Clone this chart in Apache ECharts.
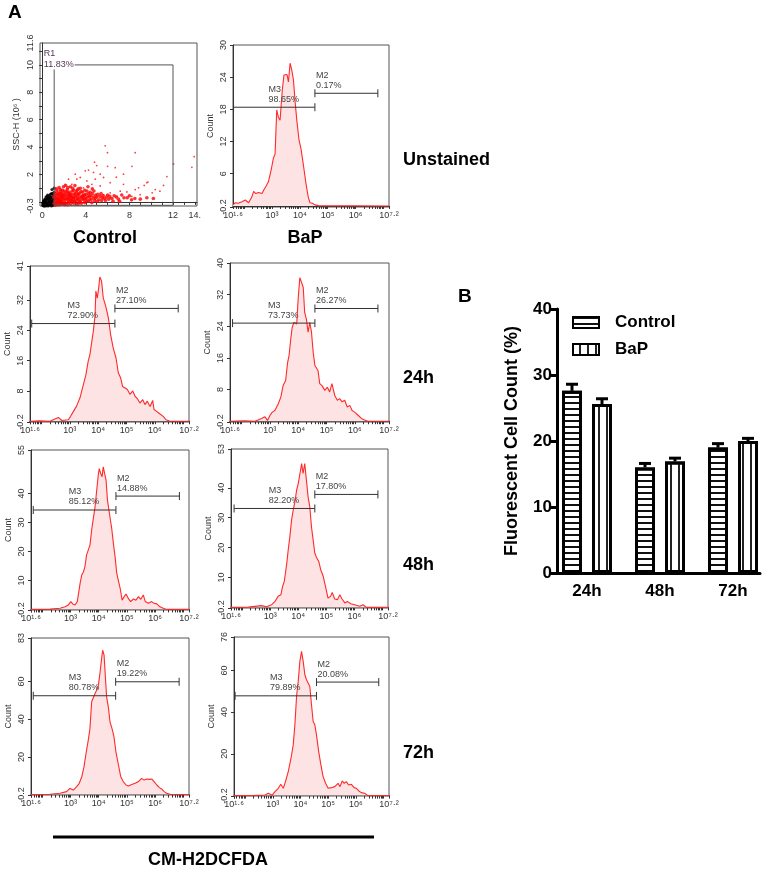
<!DOCTYPE html>
<html><head><meta charset="utf-8">
<script src="https://cdn.jsdelivr.net/npm/echarts@6/dist/echarts.min.js"></script>
<style>html,body{margin:0;padding:0;background:#fff}#c{width:764px;height:870px}</style>
</head><body><div id="c"></div>
<script>
// ---------------- DATA ----------------
// Scatter (FSC vs SSC-H) - Unstained control
const scatterBlack = [[0.1,-0.2],[0.2,-0.1],[0.3,-0.25],[0.3,0.0],[0.4,-0.15],[0.5,0.1],[0.5,-0.2],[0.6,-0.05],[0.7,0.2],[0.7,-0.2],[0.8,0.0],[0.8,0.35],[0.9,-0.15],[0.9,0.15],[1.0,0.05],[1.0,0.45],[0.6,0.3],[0.4,0.2],[0.2,0.1],[1.05,-0.2],[0.95,0.6],[0.75,0.55],[0.15,-0.3],[0.35,-0.3],[0.55,-0.3],[0.85,-0.3],[1.1,0.2],[1.1,0.7],[0.65,0.45],[0.45,0.4],[1.1,1.0],[0.9,0.9],[0.25,-0.05],[0.65,0.1],[0.85,0.6],[0.05,-0.1],[0.1,0.0],[0.2,-0.3],[0.3,0.15],[0.45,-0.05],[0.55,0.25],[0.7,0.0],[0.75,0.3],[0.8,-0.2],[0.95,0.3],[1.0,-0.25],[0.6,-0.25],[0.4,-0.25],[0.25,0.2],[0.9,0.0],[0.5,0.5],[0.35,0.35],[0.05,-0.25],[0.15,0.05]];
const scatterRedDense = [[1.1,-0.1],[1.2,0.1],[1.3,0.3],[1.4,-0.05],[1.5,0.2],[1.5,0.5],[1.6,0.0],[1.7,0.35],[1.8,0.15],[1.8,0.6],[1.9,-0.1],[2.0,0.3],[2.0,0.8],[2.1,0.1],[2.2,0.5],[2.3,0.2],[2.3,0.9],[2.4,-0.05],[2.5,0.4],[2.5,0.7],[2.6,0.15],[2.7,0.55],[2.8,0.0],[2.8,1.0],[2.9,0.3],[3.0,0.6],[3.1,0.1],[3.2,0.45],[3.2,0.85],[3.3,0.2],[3.4,0.6],[3.5,0.0],[3.6,0.35],[3.7,0.7],[3.8,0.15],[3.9,0.5],[4.0,0.25],[4.1,0.8],[4.2,0.05],[4.3,0.4],[4.5,0.2],[4.6,0.6],[4.8,0.1],[5.0,0.35],[5.2,0.15],[5.5,0.3],[5.8,0.1],[6.1,0.2],[6.5,0.05],[7.0,0.2],[1.2,0.6],[1.35,0.8],[1.65,0.9],[1.95,1.1],[2.15,1.2],[2.6,1.1],[3.0,1.2],[3.5,1.0],[1.05,0.35],[1.25,-0.2],[1.45,0.65],[1.75,-0.15],[2.05,-0.2],[2.45,0.25],[2.75,0.35],[3.35,-0.1],[3.75,0.45],[4.4,0.7],[4.9,0.5],[5.4,0.6],[6.0,0.5],[6.6,0.45],[7.3,0.5],[7.8,0.3],[8.2,0.15],[9.0,0.2],[9.6,0.3],[10.2,0.25],
  [1.15,0.45],[1.2,-0.25],[1.25,0.25],[1.3,0.0],[1.35,0.5],[1.4,0.2],[1.45,-0.2],[1.5,0.05],[1.55,0.35],[1.6,0.6],[1.6,-0.2],[1.65,0.15],[1.7,0.05],[1.7,0.75],[1.75,0.45],[1.85,-0.05],[1.85,0.35],[1.9,0.55],[1.95,0.2],[2.0,-0.1],[2.05,0.45],[2.1,0.65],[2.15,-0.1],[2.2,0.25],[2.25,0.75],[2.3,-0.2],[2.35,0.4],[2.4,0.6],[2.45,0.05],[2.55,0.55],[2.6,-0.15],[2.65,0.35],[2.7,0.1],[2.75,0.8],[2.85,0.2],[2.9,-0.1],[2.95,0.5],[3.0,0.05],[3.05,0.35],[3.15,0.7],[3.2,-0.15],[3.25,0.25],[3.3,0.55],[3.4,0.05],[3.45,0.35],[3.55,0.75],[3.6,-0.1],[3.65,0.2],[3.7,0.45],[3.85,0.3],[3.9,-0.05],[4.0,0.55],[4.05,0.1],[4.15,0.35],[4.25,0.6],[4.35,0.15],[4.45,0.45],[4.55,-0.05],[4.7,0.35],[4.75,0.8],[4.85,0.25],[5.05,0.05],[5.1,0.55],[5.3,0.4],[5.45,0.1],[5.6,0.45],[5.7,0.25],[5.9,0.35],[6.2,0.4],[6.4,0.25],[6.8,0.35],[7.1,0.05],[7.5,0.3],[8.0,0.45],[8.5,0.25],[1.3,0.95],[1.55,1.05],[1.85,0.85],[2.35,1.05],[2.9,0.85],[3.3,0.95],[3.9,0.85],[4.2,1.1],[4.6,0.95]];
const scatterRedSparse = [[5.78,4.09],[5.99,3.59],[8.53,3.59],[4.8,2.9],[5.0,2.65],[6.0,2.6],[4.25,2.32],[3.03,2.02],[8.23,2.6],[11.44,1.85],[11.13,1.2],[12.05,2.77],[13.73,2.52],[13.94,3.3],[6.7,2.5],[6.8,1.8],[7.46,1.28],[9.6,1.4],[9.7,1.45],[9.36,1.2],[8.84,1.03],[8.53,0.9],[7.77,0.73],[7.16,0.78],[6.24,0.66],[5.63,0.53],[5.32,1.16],[4.1,1.53],[3.49,1.78],[2.72,1.28],[4.56,1.28],[3.79,1.03],[3.18,0.9],[2.26,0.78],[1.96,0.53],[1.65,0.28],[1.35,0.4],[10.37,0.9],[10.8,0.78],[10.09,0.66],[8.99,0.53],[8.23,0.4],[6.86,0.4],[6.24,0.28],[5.03,0.33],[4.41,0.4],[3.95,0.28],[3.49,0.16],[7.46,2.02],[5.32,2.02],[4.71,2.15],[3.95,2.27],[5.63,1.78],[3.18,1.66],[2.42,1.66],[2.11,1.28],[6.24,1.4],[4.87,1.66]];
const gateR1 = [[1.1, 12.0, -0.25, 10.0]];
const gateR1Label = ['R1', '11.83%'];
const scatterXLabels = [0, 4, 8, 12, 14];
const scatterYLabels = [-0.3, 2, 4, 6, 8, 10, 11.6];

// Histograms: [log10(fluorescence), count]
const histUnstainedBaP = [[1.60,0.2],[1.68,0.6],[1.78,0.5],[1.92,0.8],[2.04,1.1],[2.16,0.6],[2.28,1.7],[2.34,2.7],[2.42,2.3],[2.52,2.5],[2.64,2.3],[2.72,3.1],[2.79,3.7],[2.87,4.5],[2.97,6.7],[3.05,8.9],[3.11,9.7],[3.17,17.9],[3.23,16.5],[3.29,16.0],[3.33,18.8],[3.37,21.6],[3.43,24.4],[3.49,24.1],[3.54,24.5],[3.59,23.1],[3.65,26.6],[3.71,25.3],[3.77,23.5],[3.83,19.4],[3.89,16.0],[3.97,12.3],[4.04,10.7],[4.12,7.9],[4.21,4.5],[4.30,1.7],[4.36,0.6],[4.45,0.5],[4.54,0.2],[4.66,0.05],[7.2,0.0]];
const histControl24h = [[1.60,0],[1.95,0.1],[2.30,0],[2.60,1.0],[2.72,0.2],[2.95,0.4],[3.03,1.3],[3.13,2.6],[3.24,4.0],[3.36,6.2],[3.48,9.7],[3.57,12.3],[3.65,15.9],[3.71,17.6],[3.77,20.7],[3.83,23.8],[3.89,27.8],[3.92,34.4],[3.97,32.5],[4.02,35.3],[4.06,38.1],[4.12,37.0],[4.18,32.6],[4.28,30.0],[4.36,27.3],[4.44,22.9],[4.53,19.4],[4.63,16.7],[4.71,12.8],[4.79,11.5],[4.86,9.2],[4.95,8.8],[5.03,8.4],[5.12,7.1],[5.22,8.0],[5.30,6.6],[5.38,6.0],[5.47,4.8],[5.57,5.7],[5.65,4.4],[5.73,5.3],[5.83,3.9],[5.92,5.5],[5.97,3.1],[6.06,2.6],[6.18,1.9],[6.29,1.3],[6.39,0.4],[6.53,0],[7.2,0]];
const histBaP24h = [[1.60,0],[2.13,0.1],[2.48,0],[2.71,0.7],[2.83,1.1],[2.92,0.2],[3.01,1.5],[3.09,2.3],[3.18,2.7],[3.30,4.4],[3.39,6.1],[3.47,9.0],[3.56,10.3],[3.63,14.9],[3.68,16.6],[3.74,20.8],[3.79,23.7],[3.85,25.0],[3.91,25.4],[3.95,24.6],[4.00,30.9],[4.06,36.3],[4.12,35.1],[4.18,33.8],[4.23,27.5],[4.29,25.8],[4.35,22.5],[4.41,25.0],[4.47,22.5],[4.53,17.4],[4.59,14.1],[4.64,14.5],[4.70,12.8],[4.76,9.5],[4.84,9.0],[4.94,7.8],[5.03,8.6],[5.11,7.4],[5.19,9.5],[5.29,6.5],[5.38,5.3],[5.46,5.7],[5.55,4.9],[5.64,5.3],[5.73,3.6],[5.82,4.0],[5.90,2.7],[5.99,2.3],[6.11,1.5],[6.23,0.7],[6.34,0.3],[6.46,0],[7.2,0]];
const histControl48h = [[1.60,0],[2.27,0.1],[2.63,0.4],[2.81,0.9],[2.92,1.5],[3.01,2.7],[3.08,1.9],[3.16,1.5],[3.24,2.7],[3.34,9.0],[3.40,11.9],[3.46,13.0],[3.51,14.7],[3.57,18.8],[3.63,19.1],[3.69,22.2],[3.75,27.4],[3.81,31.4],[3.87,35.4],[3.93,41.2],[3.99,46.9],[4.02,48.6],[4.07,46.9],[4.12,45.8],[4.16,49.2],[4.21,49.8],[4.26,44.6],[4.31,37.7],[4.38,33.1],[4.46,28.0],[4.52,22.8],[4.58,18.2],[4.64,12.4],[4.70,11.9],[4.76,7.3],[4.83,3.2],[4.90,4.4],[4.97,5.3],[5.05,3.8],[5.13,2.7],[5.23,3.6],[5.32,3.2],[5.41,4.4],[5.49,3.5],[5.58,5.0],[5.65,2.7],[5.76,2.1],[5.88,2.7],[5.96,2.1],[6.06,1.9],[6.17,0.9],[6.29,0.4],[6.41,0],[7.2,0]];
const histBaP48h = [[1.60,0],[2.22,0.1],[2.69,0.6],[2.87,0.2],[3.05,0.9],[3.17,2.0],[3.28,3.7],[3.38,4.2],[3.44,7.0],[3.50,8.7],[3.55,12.0],[3.59,14.8],[3.64,19.2],[3.70,23.7],[3.76,29.2],[3.82,32.6],[3.88,35.4],[3.94,39.2],[4.00,41.5],[4.06,44.8],[4.12,48.1],[4.17,44.8],[4.23,48.1],[4.29,42.6],[4.35,37.0],[4.41,33.7],[4.47,27.0],[4.53,22.6],[4.59,18.1],[4.66,16.5],[4.73,15.4],[4.80,12.6],[4.89,10.4],[4.97,7.0],[5.06,3.1],[5.15,3.7],[5.21,5.0],[5.30,2.8],[5.40,2.6],[5.48,4.2],[5.56,2.8],[5.66,1.5],[5.75,2.0],[5.87,1.2],[6.01,0.9],[6.19,0.4],[6.31,0.9],[6.43,0],[6.61,0],[7.2,0]];
const histControl72h = [[1.60,0],[2.27,0.2],[2.63,0.7],[2.86,1.6],[2.98,3.3],[3.10,2.4],[3.22,4.2],[3.31,6.0],[3.40,9.5],[3.48,14.8],[3.55,21.8],[3.63,28.9],[3.69,35.1],[3.75,49.2],[3.81,50.1],[3.87,53.6],[3.93,55.4],[3.99,58.0],[4.05,65.1],[4.11,73.0],[4.14,76.5],[4.19,73.9],[4.24,61.5],[4.28,51.8],[4.34,46.5],[4.40,38.6],[4.47,35.1],[4.54,30.7],[4.61,22.7],[4.70,15.7],[4.78,9.5],[4.87,6.9],[4.97,5.1],[5.05,4.6],[5.17,5.4],[5.29,6.0],[5.41,6.9],[5.52,8.6],[5.61,7.7],[5.70,8.3],[5.80,8.1],[5.88,8.3],[5.96,6.9],[6.06,5.1],[6.15,3.7],[6.23,3.0],[6.32,1.6],[6.41,0.7],[6.53,0.2],[7.2,0]];
const histBaP72h = [[1.60,0],[2.24,0],[2.72,0.3],[2.84,1.1],[2.98,0.2],[3.08,1.9],[3.20,3.5],[3.29,5.4],[3.38,3.5],[3.46,6.7],[3.56,11.5],[3.66,17.9],[3.74,24.3],[3.80,33.9],[3.86,47.5],[3.92,54.7],[3.98,64.3],[4.04,69.1],[4.10,64.3],[4.16,57.9],[4.22,55.5],[4.28,56.3],[4.34,52.3],[4.40,43.5],[4.46,35.5],[4.52,33.9],[4.58,29.1],[4.66,21.1],[4.74,14.7],[4.82,9.1],[4.91,5.9],[5.00,3.5],[5.12,3.8],[5.24,4.3],[5.36,5.9],[5.43,4.3],[5.51,7.0],[5.58,5.9],[5.66,6.7],[5.74,5.1],[5.84,5.4],[5.94,3.8],[6.02,3.5],[6.11,2.2],[6.20,1.4],[6.32,1.1],[6.44,0],[7.2,0]];

const countAxisMax = [30, 41, 40, 55, 53, 83, 76];
const countAxisLabels = [[-0.2,6,12,18,24,30],[-0.2,8,16,24,32,41],[-0.2,8,16,24,32,40],[-0.2,10,20,30,40,55],[-0.2,10,20,30,40,53],[-0.2,20,40,60,83],[-0.2,20,40,60,76]];
const logAxisLabels = [1.6, 3, 4, 5, 6, 7.2];
const logAxisText = ['10¹·⁶', '10³', '10⁴', '10⁵', '10⁶', '10⁷·²'];
// gates [start, end, level]
const gateM3 = [[1.62,4.54,18.4],[1.66,4.59,25.8],[1.69,4.59,24.8],[1.68,4.61,34.3],[1.71,4.59,33.1],[1.68,4.60,52.4],[1.64,4.58,47.8]];
const gateM2 = [[4.54,6.80,21.0],[4.59,6.82,29.8],[4.59,6.81,28.5],[4.61,6.86,39.1],[4.59,6.84,37.8],[4.60,6.85,59.8],[4.58,6.83,54.4]];
const pctM3 = ['98.65%','72.90%','73.73%','85.12%','82.20%','80.78%','79.89%'];
const pctM2 = ['0.17%','27.10%','26.27%','14.88%','17.80%','19.22%','20.08%'];

// Panel B
const barCategories = ['24h', '48h', '72h'];
const controlMean = [27.6, 16.0, 19.0];
const controlSEM  = [1.0, 0.6, 0.6];
const bapMean     = [25.6, 16.9, 20.0];
const bapSEM      = [0.8, 0.5, 0.4];

// ---------------- LAYOUT ----------------
const FONT = 'Liberation Sans, Arial, sans-serif';
const histData = [histUnstainedBaP, histControl24h, histBaP24h, histControl48h, histBaP48h, histControl72h, histBaP72h];
const histBoxes = [
  {left:233, top:45,  width:156, height:162},
  {left:30,  top:266, width:159, height:156},
  {left:230, top:263, width:159, height:159},
  {left:31,  top:450, width:158, height:160},
  {left:231, top:449, width:157, height:159},
  {left:31,  top:638, width:158, height:157},
  {left:234, top:637, width:155, height:159}
];
const logTicks = [];
for (let n = 1; n <= 7; n++) for (let k = 1; k <= 9; k++) {
  const v = Math.log10(k * Math.pow(10, n));
  if (v >= 1.6 - 1e-9 && v <= 7.2 + 1e-9) logTicks.push(v);
}
logTicks.push(1.6, 7.2);

const grids = [], xAxes = [], yAxes = [], series = [];
const axisGray = '#333';

// Scatter panel (index 0)
grids.push({left:40, top:43, width:157, height:163, show:true, borderColor:'#555', borderWidth:1, backgroundColor:'transparent', outerBoundsMode:'none'});
xAxes.push({gridIndex:0, type:'value', min:-0.2, max:14.2, splitLine:{show:false},
  axisLine:{lineStyle:{color:axisGray, width:1}},
  axisTick:{customValues:[0,1,2,3,4,5,6,7,8,9,10,11,12,13,14], length:3, lineStyle:{color:axisGray}},
  axisLabel:{customValues:scatterXLabels, formatter:v => v === 14 ? '14.' : String(v), fontSize:9, color:'#333', margin:5, fontFamily:FONT}});
yAxes.push({gridIndex:0, type:'value', min:-0.3, max:11.6, splitLine:{show:false},
  axisLine:{lineStyle:{color:axisGray, width:1}},
  axisTick:{customValues:[0,1,2,3,4,5,6,7,8,9,10,11], length:3, lineStyle:{color:axisGray}},
  axisLabel:{customValues:scatterYLabels, rotate:90, fontSize:9, color:'#333', margin:5, fontFamily:FONT},
  name:'SSC-H (10⁶ )', nameLocation:'middle', nameGap:19, nameTextStyle:{fontSize:9, color:'#333', fontFamily:FONT}});
series.push({type:'scatter', xAxisIndex:0, yAxisIndex:0, data:scatterBlack, symbolSize:3.2, itemStyle:{color:'#000'}, silent:true});
series.push({type:'scatter', xAxisIndex:0, yAxisIndex:0, data:scatterRedDense, symbolSize:3.6, itemStyle:{color:'#ff0000'}, silent:true});
series.push({type:'scatter', xAxisIndex:0, yAxisIndex:0, data:scatterRedSparse, symbolSize:1.8, itemStyle:{color:'#ff1010'}, silent:true});
series.push({type:'custom', xAxisIndex:0, yAxisIndex:0, data:gateR1, silent:true, z:5,
  renderItem:function(params, api){
    const a = api.coord([api.value(0), api.value(3)]);
    const b = api.coord([api.value(1), api.value(2)]);
    const labX = api.coord([0.15, 0])[0];
    return {type:'group', children:[
      {type:'rect', shape:{x:a[0], y:a[1], width:b[0]-a[0], height:b[1]-a[1]}, style:{stroke:'#555', fill:null, lineWidth:1}},
      {type:'text', style:{text:gateR1Label[0], x:labX, y:a[1]-7, fontSize:9, fill:'#553355', fontFamily:FONT, align:'left', verticalAlign:'bottom'}},
      {type:'text', style:{text:gateR1Label[1], x:labX, y:a[1], fontSize:9, fill:'#553355', fontFamily:FONT, align:'left', verticalAlign:'middle', backgroundColor:'#fff', padding:[0,1,0,0]}}
    ]};
  }});

function gateRenderer(pctArr, name, isM3){
  return function(params, api){
    const x1 = api.value(0), x2 = api.value(1), y = api.value(2);
    const a = api.coord([x1, y]), b = api.coord([x2, y]);
    const c = '#333';
    const tx = isM3 ? a[0] + 0.43 * (b[0] - a[0]) : a[0] + 1;
    return {type:'group', children:[
      {type:'line', shape:{x1:a[0], y1:a[1], x2:b[0], y2:b[1]}, style:{stroke:c, lineWidth:1}},
      {type:'line', shape:{x1:a[0], y1:a[1]-4, x2:a[0], y2:a[1]+4}, style:{stroke:c, lineWidth:1}},
      {type:'line', shape:{x1:b[0], y1:b[1]-4, x2:b[0], y2:b[1]+4}, style:{stroke:c, lineWidth:1}},
      {type:'text', style:{text:name + '\n' + pctArr, x:tx, y:a[1]-3, align:'left', verticalAlign:'bottom', fontSize:9, lineHeight:10, fill:'#444', fontFamily:FONT}}
    ]};
  };
}

histData.forEach((d, p) => {
  const gi = p + 1;
  const box = histBoxes[p];
  grids.push(Object.assign({show:true, borderColor:'#555', borderWidth:1, backgroundColor:'transparent', outerBoundsMode:'none'}, box));
  xAxes.push({gridIndex:gi, type:'value', min:1.6, max:7.2, splitLine:{show:false},
    axisLine:{lineStyle:{color:axisGray, width:1}},
    axisTick:{customValues:logTicks, length:3, lineStyle:{color:axisGray}},
    axisLabel:{customValues:logAxisLabels, margin:4, color:'#333', fontFamily:FONT, fontSize:9,
      formatter:v => logAxisText[logAxisLabels.indexOf(v)]}});
  yAxes.push({gridIndex:gi, type:'value', min:-0.2, max:countAxisMax[p], splitLine:{show:false},
    axisLine:{lineStyle:{color:axisGray, width:1}},
    axisTick:{customValues:countAxisLabels[p], length:3, lineStyle:{color:axisGray}},
    axisLabel:{customValues:countAxisLabels[p], rotate:90, fontSize:9, color:'#333', margin:5, fontFamily:FONT},
    name:'Count', nameLocation:'middle', nameGap:18, nameTextStyle:{fontSize:9, color:'#333', fontFamily:FONT}});
  series.push({type:'line', xAxisIndex:gi, yAxisIndex:gi, data:d, showSymbol:false, symbol:'none', silent:true,
    lineStyle:{color:'#ff2a2a', width:1.1}, areaStyle:{color:'#fde3e3', opacity:1}, z:2});
  series.push({type:'custom', xAxisIndex:gi, yAxisIndex:gi, data:[gateM3[p]], silent:true, z:5, renderItem:gateRenderer(pctM3[p], 'M3', true)});
  series.push({type:'custom', xAxisIndex:gi, yAxisIndex:gi, data:[gateM2[p]], silent:true, z:5, renderItem:gateRenderer(pctM2[p], 'M2', false)});
});

// Panel B: bars grid (index 8) and axis grid (index 9)
grids.push({left:550.5, top:309, width:219, height:264, outerBoundsMode:'none'});
xAxes.push({gridIndex:8, type:'category', data:barCategories, axisLine:{show:false}, axisTick:{show:false},
  axisLabel:{fontSize:17, fontWeight:'bold', color:'#000', margin:10, fontFamily:FONT}});
yAxes.push({gridIndex:8, type:'value', min:0, max:40, show:false});
grids.push({left:557, top:309, width:203, height:264, outerBoundsMode:'none'});
xAxes.push({gridIndex:9, type:'value', min:0, max:1, axisLine:{lineStyle:{color:'#000', width:3}}, axisTick:{show:false}, axisLabel:{show:false}, splitLine:{show:false}});
yAxes.push({gridIndex:9, type:'value', min:0, max:40, interval:10, splitLine:{show:false},
  axisLine:{show:true, lineStyle:{color:'#000', width:3}},
  axisTick:{show:true, length:6, lineStyle:{color:'#000', width:3}},
  axisLabel:{fontSize:17, fontWeight:'bold', color:'#000', margin:5, fontFamily:FONT},
  name:'Fluorescent Cell Count (%)', nameLocation:'middle', nameGap:36,
  nameTextStyle:{fontSize:18, fontWeight:'bold', color:'#000', fontFamily:FONT}});

const BAR_W = 20, BAR_OFF = 15;
series.push({type:'bar', name:'Control', xAxisIndex:8, yAxisIndex:8, data:controlMean, barWidth:BAR_W, barGap:'50%', z:3,
  itemStyle:{color:'#fff', borderColor:'#000', borderWidth:3,
    decal:{symbol:'rect', symbolSize:1, dashArrayX:[1,0], dashArrayY:[1.6,4], color:'#111', rotation:0}}});
series.push({type:'bar', name:'BaP', xAxisIndex:8, yAxisIndex:8, data:bapMean, barWidth:BAR_W, barGap:'50%', z:3,
  itemStyle:{color:'#fff', borderColor:'#000', borderWidth:3,
    decal:{symbol:'rect', symbolSize:1, dashArrayX:[1,0], dashArrayY:[1.3,5.5], color:'#222', rotation:Math.PI/2}}});
function errRenderer(offset){
  return function(params, api){
    const i = api.value(0), m = api.value(1), e = api.value(2);
    const base = api.coord([i, m]), top = api.coord([i, m + e]);
    const x = base[0] + offset;
    return {type:'group', children:[
      {type:'line', shape:{x1:x, y1:base[1], x2:x, y2:top[1]}, style:{stroke:'#000', lineWidth:3}},
      {type:'line', shape:{x1:x-6, y1:top[1], x2:x+6, y2:top[1]}, style:{stroke:'#000', lineWidth:3}}
    ]};
  };
}
series.push({type:'custom', xAxisIndex:8, yAxisIndex:8, z:4, silent:true,
  data:controlMean.map((m, i) => [i, m, controlSEM[i]]), renderItem:errRenderer(-BAR_OFF)});
series.push({type:'custom', xAxisIndex:8, yAxisIndex:8, z:4, silent:true,
  data:bapMean.map((m, i) => [i, m, bapSEM[i]]), renderItem:errRenderer(BAR_OFF)});

function txt(text, x, y, size, align){
  return {type:'text', silent:true, style:{text:text, x:x, y:y, fill:'#000', font:'bold ' + size + 'px ' + FONT,
    textAlign:align || 'left', align:align || 'left', textVerticalAlign:'middle', verticalAlign:'middle'}};
}

const option = {
  animation:false,
  backgroundColor:'#fff',
  textStyle:{fontFamily:FONT},
  grid:grids, xAxis:xAxes, yAxis:yAxes, series:series,
  legend:{data:['Control','BaP'], left:567, top:309, orient:'vertical', itemWidth:26, itemHeight:11, itemGap:10,
    icon:'rect', selectedMode:false,
    textStyle:{fontSize:17, fontWeight:'bold', color:'#000', fontFamily:FONT, padding:[0,0,0,11]}},
  graphic:[
    txt('A', 8, 13, 19),
    txt('B', 458, 297, 19),
    txt('Unstained', 403, 160, 18),
    txt('Control', 105, 238, 18, 'center'),
    txt('BaP', 305, 238, 18, 'center'),
    txt('24h', 403, 378, 18),
    txt('48h', 403, 565, 18),
    txt('72h', 403, 753, 18),
    {type:'line', silent:true, shape:{x1:53, y1:837, x2:374, y2:837}, style:{stroke:'#000', lineWidth:3}},
    txt('CM-H2DCFDA', 208, 860, 18, 'center')
  ]
};
const chart = echarts.init(document.getElementById('c'), null, {renderer:'canvas'});
chart.setOption(option);
</script></body></html>
